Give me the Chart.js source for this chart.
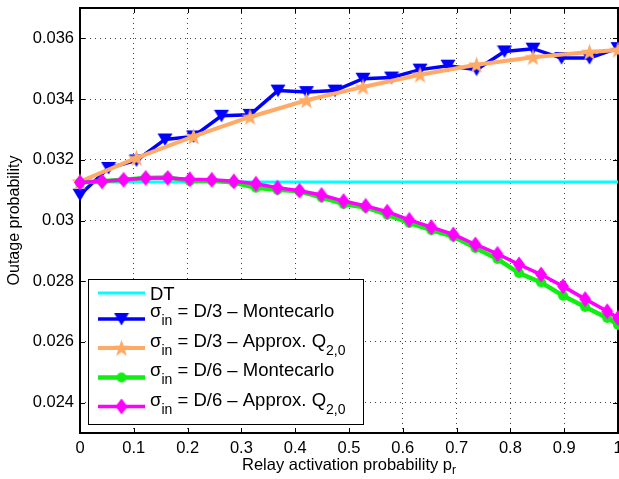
<!DOCTYPE html>
<html>
<head>
<meta charset="utf-8">
<script src="https://cdn.jsdelivr.net/npm/chart.js@4.4.1/dist/chart.umd.min.js"></script>
<style>
  body { margin: 0; background: #fff; }
  canvas { display: block; }
</style>
</head>
<body>
<canvas id="outageChart" width="619" height="479"></canvas>
<script>
// axis ticks
const xTicks = [0, 0.1, 0.2, 0.3, 0.4, 0.5, 0.6, 0.7, 0.8, 0.9, 1];
const yTicks = [0.024, 0.026, 0.028, 0.030, 0.032, 0.034, 0.036];

// direct transmission (flat)
const dtX = [0, 1];
const dtOut = [0.03127, 0.03127];

// sigma_in = D/3, Montecarlo
const d3McX = [0, 0.053, 0.105, 0.158, 0.211, 0.263, 0.316, 0.368, 0.421, 0.474,
  0.526, 0.579, 0.632, 0.684, 0.737, 0.789, 0.842, 0.895, 0.947, 1];
const d3McOut = [0.03085, 0.03173, 0.03198, 0.03267, 0.03277, 0.03345, 0.03348, 0.03428, 0.03423, 0.03428,
  0.03467, 0.03471, 0.03497, 0.0351, 0.03497, 0.03557, 0.03566, 0.03535, 0.03535, 0.03568];

// sigma_in = D/3, approx Q2,0
const d3ApX = [0, 0.105, 0.211, 0.316, 0.421, 0.526, 0.632, 0.737, 0.842, 0.947, 1];
const d3ApOut = [0.03128, 0.03206, 0.03277, 0.03341, 0.03396, 0.0344, 0.0348, 0.03513, 0.03538, 0.03555, 0.03562];

// sigma_in = D/6 (both curves share x)
const d6X = [0, 0.041, 0.081, 0.122, 0.163, 0.204, 0.245, 0.286, 0.327, 0.367,
  0.408, 0.449, 0.49, 0.531, 0.571, 0.612, 0.653, 0.694, 0.735, 0.776,
  0.816, 0.857, 0.898, 0.939, 0.98, 1];
const d6McOut = [0.03125, 0.03129, 0.03134, 0.0314, 0.03142, 0.0313, 0.03132, 0.03125, 0.03108, 0.03101,
  0.03096, 0.03076, 0.03054, 0.03043, 0.03019, 0.02992, 0.02968, 0.02947, 0.02909, 0.02873,
  0.02827, 0.02796, 0.02752, 0.02715, 0.02679, 0.02656];
const d6ApOut = [0.03125, 0.03129, 0.03134, 0.0314, 0.0314, 0.03136, 0.03134, 0.03129, 0.03121, 0.03108,
  0.03098, 0.03084, 0.03064, 0.03048, 0.03029, 0.03002, 0.02978, 0.02954, 0.02921, 0.0289,
  0.02855, 0.02822, 0.02783, 0.02741, 0.02701, 0.02679];

const FONT = '"Liberation Sans", Arial, Helvetica, sans-serif';
Chart.defaults.font.family = FONT;
Chart.defaults.color = '#000';

const pts = (xs, ys) => xs.map((x, i) => ({x: x, y: ys[i]}));

// marker images (matlab style)
function marker(kind, color) {
  const c = document.createElement('canvas');
  const g = c.getContext('2d');
  if (kind === 'tri') {
    c.width = 16; c.height = 14;
    g.beginPath();
    g.moveTo(0.5, 1); g.lineTo(15.5, 1); g.lineTo(8, 13.5);
  } else if (kind === 'star') {
    c.width = 19; c.height = 19;
    g.beginPath();
    for (let k = 0; k < 10; k++) {
      const r = k % 2 ? 3.6 : 9;
      const a = -Math.PI / 2 + k * Math.PI / 5;
      g.lineTo(9.5 + r * Math.cos(a), 10.2 + r * Math.sin(a));
    }
  } else if (kind === 'circle') {
    c.width = 12; c.height = 12;
    g.beginPath();
    g.arc(6, 6, 5, 0, Math.PI * 2);
  } else {
    c.width = 14; c.height = 17;
    g.beginPath();
    g.moveTo(7, 0.5); g.lineTo(13, 8.5); g.lineTo(7, 16.5); g.lineTo(1, 8.5);
  }
  g.closePath();
  g.fillStyle = color;
  g.fill();
  return c;
}

const series = [
  {color: '#00ffff', width: 3, mark: null},
  {color: '#0000ff', width: 3.5, mark: marker('tri', '#0000ff')},
  {color: '#ffaa66', width: 4, mark: marker('star', '#ffaa66')},
  {color: '#11ee11', width: 4.5, mark: marker('circle', '#11ee11')},
  {color: '#ff00ff', width: 3.5, mark: marker('diamond', '#ff00ff')}
];

const legendText = [
  [['DT', 0]],
  [['σ', 0], ['in', 1], [' = D/3 – Montecarlo', 0]],
  [['σ', 0], ['in', 1], [' = D/3 – Approx. Q', 0], ['2,0', 1]],
  [['σ', 0], ['in', 1], [' = D/6 – Montecarlo', 0]],
  [['σ', 0], ['in', 1], [' = D/6 – Approx. Q', 0], ['2,0', 1]]
];

function ds(i, data) {
  const s = series[i];
  return {
    data: data,
    borderColor: s.color,
    backgroundColor: s.color,
    borderWidth: s.width,
    pointStyle: s.mark || false,
    pointRadius: s.mark ? 7 : 0,
    tension: 0,
    clip: false,
    order: 5 - i
  };
}

// box, inward ticks, x title
const frame = {
  id: 'frame',
  beforeDatasetsDraw(chart) {
    const {ctx, chartArea: a, scales} = chart;
    ctx.save();
    ctx.strokeStyle = '#000';
    ctx.lineWidth = 1;
    ctx.beginPath();
    xTicks.forEach(v => {
      const px = Math.round(scales.x.getPixelForValue(v)) + 0.5;
      ctx.moveTo(px, a.bottom); ctx.lineTo(px, a.bottom - 5);
      ctx.moveTo(px, a.top); ctx.lineTo(px, a.top + 5);
    });
    yTicks.forEach(v => {
      const py = Math.round(scales.y.getPixelForValue(v)) + 0.5;
      ctx.moveTo(a.left, py); ctx.lineTo(a.left + 5, py);
      ctx.moveTo(a.right, py); ctx.lineTo(a.right - 5, py);
    });
    ctx.stroke();
    ctx.lineWidth = 2;
    ctx.strokeRect(a.left, a.top, a.right - a.left, a.bottom - a.top);

    ctx.fillStyle = '#000';
    ctx.textBaseline = 'alphabetic';
    ctx.font = '16.5px ' + FONT;
    const main = 'Relay activation probability p';
    const w1 = ctx.measureText(main).width;
    ctx.font = '12px ' + FONT;
    const w2 = ctx.measureText('r').width;
    const x0 = (a.left + a.right) / 2 - (w1 + w2) / 2;
    ctx.font = '16.5px ' + FONT;
    ctx.fillText(main, x0, 470);
    ctx.font = '12px ' + FONT;
    ctx.fillText('r', x0 + w1, 474);
    ctx.restore();
  }
};

const legendBox = {
  id: 'legendBox',
  afterDraw(chart) {
    const ctx = chart.ctx;
    const left = 88, top = 279, right = 363, bottom = 424;
    const lineY = [293, 319, 348, 377.5, 406.5];
    const textY = [299.5, 317, 346.5, 376, 405.5];
    ctx.save();
    ctx.fillStyle = '#fff';
    ctx.fillRect(left, top, right - left, bottom - top);
    ctx.strokeStyle = '#000';
    ctx.lineWidth = 1;
    ctx.strokeRect(left + 0.5, top + 0.5, right - left, bottom - top);
    series.forEach((s, i) => {
      ctx.strokeStyle = s.color;
      ctx.lineWidth = s.width;
      ctx.beginPath();
      ctx.moveTo(98, lineY[i]);
      ctx.lineTo(145, lineY[i]);
      ctx.stroke();
      if (s.mark) {
        ctx.drawImage(s.mark, 121.5 - s.mark.width / 2, lineY[i] - s.mark.height / 2);
      }
      let x = 150;
      ctx.fillStyle = '#000';
      legendText[i].forEach(([t, sub]) => {
        ctx.font = (sub ? '14px ' : '18.5px ') + FONT;
        ctx.fillText(t, x, sub ? textY[i] + 8 : textY[i]);
        x += ctx.measureText(t).width;
      });
    });
    ctx.restore();
  }
};

const gridOpts = {color: '#444', lineWidth: 1, drawTicks: false};

new Chart(document.getElementById('outageChart'), {
  type: 'line',
  data: {
    datasets: [
      ds(0, pts(dtX, dtOut)),
      ds(1, pts(d3McX, d3McOut)),
      ds(2, pts(d3ApX, d3ApOut)),
      ds(3, pts(d6X, d6McOut)),
      ds(4, pts(d6X, d6ApOut))
    ]
  },
  options: {
    responsive: false,
    animation: false,
    layout: {autoPadding: false, padding: {top: 8, right: 1, bottom: 0, left: 0}},
    plugins: {legend: {display: false}, tooltip: {enabled: false}},
    scales: {
      x: {
        type: 'linear',
        min: 0,
        max: 1,
        afterBuildTicks: s => { s.ticks = xTicks.map(v => ({value: v})); },
        afterFit: s => {
          s.height = 46;
          s.paddingLeft = 0; s.paddingRight = 0;
        },
        grid: gridOpts,
        border: {display: false, dash: [1, 4]},
        ticks: {
          padding: 6,
          font: {size: 16.5},
          maxRotation: 0,
          callback: v => String(+v.toFixed(1))
        }
      },
      y: {
        type: 'linear',
        min: 0.023,
        max: 0.037,
        afterBuildTicks: s => { s.ticks = yTicks.map(v => ({value: v})); },
        afterFit: s => {
          s.width = 80;
          s.paddingTop = 0; s.paddingBottom = 0;
        },
        grid: gridOpts,
        border: {display: false, dash: [1, 4]},
        title: {
          display: true,
          text: 'Outage probability',
          font: {size: 16},
          padding: {top: 5, bottom: 0}
        },
        ticks: {
          padding: 6,
          font: {size: 16.5},
          callback: v => String(+v.toFixed(3))
        }
      }
    }
  },
  plugins: [frame, legendBox]
});
</script>
</body>
</html>
